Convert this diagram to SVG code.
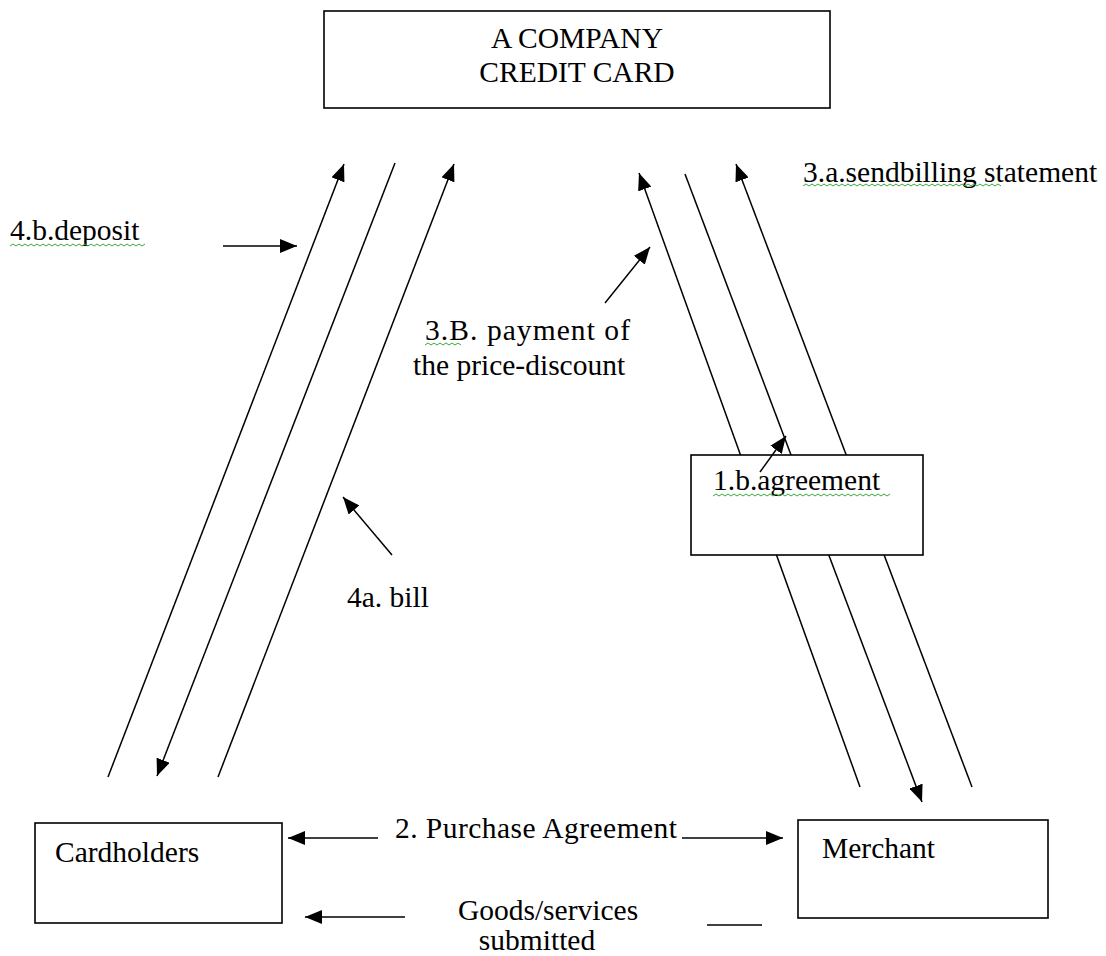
<svg xmlns="http://www.w3.org/2000/svg" width="1106" height="956" viewBox="0 0 1106 956">
<style>
.box{fill:#fff;stroke:#000;stroke-width:1.6}
.t{font-family:'Liberation Serif','Times New Roman','DejaVu Serif',serif;font-size:29.5px;fill:#000}
.c{stroke:#000;stroke-width:1.5;fill:none}
.a{stroke:#000;stroke-width:1.5;fill:none;marker-end:url(#ah)}
.w{stroke:#3aa83a;stroke-width:1;fill:none}
</style>
<defs>
<marker id="ah" markerUnits="userSpaceOnUse" markerWidth="18" markerHeight="14" refX="17" refY="7" orient="auto">
<path d="M0,0 L17,7 L0,14 z" fill="#000"/>
</marker>
</defs>
<rect width="1106" height="956" fill="#fff"/>
<g id="connectors">
<line class="a" x1="108" y1="777" x2="344" y2="164"/>
<line class="a" x1="395" y1="163" x2="157" y2="776"/>
<line class="a" x1="218" y1="777" x2="454" y2="164"/>
<line class="a" x1="860" y1="787" x2="639" y2="173"/>
<line class="a" x1="685" y1="174" x2="922" y2="802"/>
<line class="a" x1="972" y1="787" x2="736" y2="164"/>
<line class="a" x1="223" y1="246" x2="297" y2="246"/>
<line class="a" x1="605" y1="303" x2="650" y2="247"/>
<line class="a" x1="392" y1="555" x2="343" y2="497"/>
<line class="a" x1="378" y1="838" x2="288" y2="838"/>
<line class="a" x1="682" y1="838" x2="783" y2="838"/>
<line class="a" x1="405" y1="917" x2="305" y2="917"/>
<line class="c" x1="707" y1="925" x2="762" y2="925"/>
</g>
<g id="company">
<rect class="box" x="324" y="11" width="506" height="97"/>
<text class="t" x="577" y="48" text-anchor="middle">A COMPANY</text>
<text class="t" x="577" y="82" text-anchor="middle">CREDIT CARD</text>
</g>
<g id="agreement">
<rect class="box" x="691" y="455" width="232" height="100"/>
<line class="a" x1="760" y1="472" x2="786" y2="436"/>
<text class="t" x="713" y="490">1.b.agreement</text>
<path class="w" d="M713,496 l3,-2 l3,2 l3,-2 l3,2 l3,-2 l3,2 l3,-2 l3,2 l3,-2 l3,2 l3,-2 l3,2 l3,-2 l3,2 l3,-2 l3,2 l3,-2 l3,2 l3,-2 l3,2 l3,-2 l3,2 l3,-2 l3,2 l3,-2 l3,2 l3,-2 l3,2 l3,-2 l3,2 l3,-2 l3,2 l3,-2 l3,2 l3,-2 l3,2 l3,-2 l3,2 l3,-2 l3,2 l3,-2 l3,2 l3,-2 l3,2 l3,-2 l3,2 l3,-2 l3,2 l3,-2 l3,2 l3,-2 l3,2 l3,-2 l3,2 l3,-2 l3,2 l3,-2 l3,2 l3,-2"/>
</g>
<g id="cardholders">
<rect class="box" x="35" y="823" width="247" height="100"/>
<text class="t" x="55" y="862">Cardholders</text>
</g>
<g id="merchant">
<rect class="box" x="798" y="820" width="250" height="98"/>
<text class="t" x="822" y="858">Merchant</text>
</g>
<g id="labels">
<text class="t" x="10" y="240">4.b.deposit</text>
<path class="w" d="M10,246 l3,-2 l3,2 l3,-2 l3,2 l3,-2 l3,2 l3,-2 l3,2 l3,-2 l3,2 l3,-2 l3,2 l3,-2 l3,2 l3,-2 l3,2 l3,-2 l3,2 l3,-2 l3,2 l3,-2 l3,2 l3,-2 l3,2 l3,-2 l3,2 l3,-2 l3,2 l3,-2 l3,2 l3,-2 l3,2 l3,-2 l3,2 l3,-2 l3,2 l3,-2 l3,2 l3,-2 l3,2 l3,-2 l3,2 l3,-2 l3,2 l3,-2"/>
<text class="t" x="803" y="182">3.a.sendbilling statement</text>
<path class="w" d="M803,186 l3,-2 l3,2 l3,-2 l3,2 l3,-2 l3,2 l3,-2 l3,2 l3,-2 l3,2 l3,-2 l3,2 l3,-2 l3,2 l3,-2 l3,2 l3,-2 l3,2 l3,-2 l3,2 l3,-2 l3,2 l3,-2 l3,2 l3,-2 l3,2 l3,-2 l3,2 l3,-2 l3,2 l3,-2 l3,2 l3,-2 l3,2 l3,-2 l3,2 l3,-2 l3,2 l3,-2 l3,2 l3,-2 l3,2 l3,-2 l3,2 l3,-2 l3,2 l3,-2 l3,2 l3,-2 l3,2 l3,-2 l3,2 l3,-2 l3,2 l3,-2 l3,2 l3,-2 l3,2 l3,-2 l3,2 l3,-2 l3,2 l3,-2 l3,2 l3,-2 l3,2"/>
<text class="t" x="425" y="340" textLength="205" lengthAdjust="spacing">3.B. payment of</text>
<path class="w" d="M425,345 l3,-2 l3,2 l3,-2 l3,2 l3,-2 l3,2 l3,-2 l3,2 l3,-2 l3,2 l3,-2 l3,2"/>
<text class="t" x="413" y="375">the price-discount</text>
<text class="t" x="347" y="607">4a. bill</text>
<text class="t" x="395" y="838" textLength="282" lengthAdjust="spacing">2. Purchase Agreement</text>
<text class="t" x="548" y="920" text-anchor="middle">Goods/services</text>
<text class="t" x="537" y="950" text-anchor="middle">submitted</text>
</g>
</svg>
